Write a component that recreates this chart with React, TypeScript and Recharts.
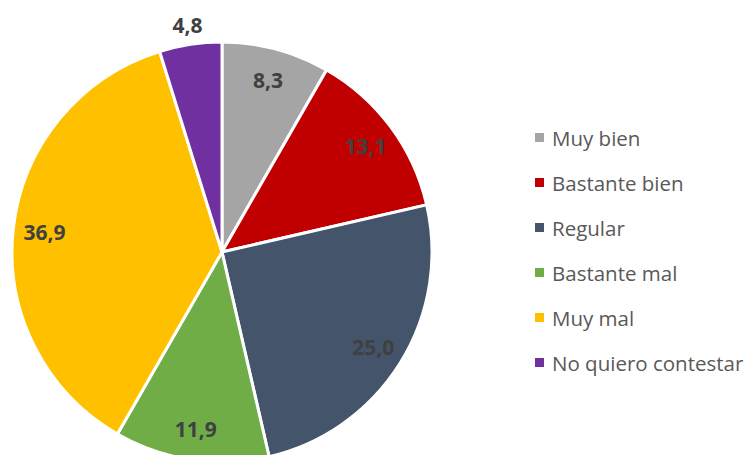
import { PieChart, Pie, Cell, Legend } from 'recharts';

const categories = [
  'Muy bien',
  'Bastante bien',
  'Regular',
  'Bastante mal',
  'Muy mal',
  'No quiero contestar',
];
const values = [8.3, 13.1, 25.0, 11.9, 36.9, 4.8];
const colors = ['#A5A5A5', '#C00000', '#44546A', '#70AD47', '#FFC000', '#7030A0'];

const data = categories.map((name, i) => ({ name, value: values[i] }));

const RAD = Math.PI / 180;
const FONT = '"Open Sans", sans-serif';

const renderLabel = (props: any) => {
  const { cx, cy, midAngle, outerRadius, percent, value } = props;
  // small slices go outside, like Excel's best fit
  const r = percent < 0.06 ? outerRadius + 20 : outerRadius * 0.85;
  const x = cx + r * Math.cos(-midAngle * RAD);
  const y = cy + r * Math.sin(-midAngle * RAD);
  return (
    <text
      x={x}
      y={y}
      fill="#404040"
      textAnchor="middle"
      dominantBaseline="central"
      fontFamily={FONT}
      fontWeight={700}
      fontSize={21}
    >
      {Number(value).toFixed(1).replace('.', ',')}
    </text>
  );
};

const renderLegend = () => (
  <div style={{ fontFamily: FONT, fontSize: 20.5, color: '#595959' }}>
    {data.map((d, i) => (
      <div key={d.name} style={{ display: 'flex', alignItems: 'center', height: 45 }}>
        <span
          style={{
            display: 'inline-block',
            width: 9,
            height: 9,
            background: colors[i],
            marginRight: 8,
          }}
        />
        <span style={{ whiteSpace: 'nowrap' }}>{d.name}</span>
      </div>
    ))}
  </div>
);

export default function App() {
  return (
    <div>
      <style>{'body{margin:0}'}</style>
      <PieChart width={749} height={455} margin={{ top: 0, right: 0, bottom: 0, left: 0 }}>
        <Pie
          data={data}
          dataKey="value"
          nameKey="name"
          cx={222}
          cy={252}
          outerRadius={210}
          startAngle={90}
          endAngle={-270}
          stroke="#FFFFFF"
          strokeWidth={3}
          label={renderLabel}
          labelLine={false}
          isAnimationActive={false}
        >
          {data.map((d, i) => (
            <Cell key={d.name} fill={colors[i]} />
          ))}
        </Pie>
        <Legend
          content={renderLegend}
          layout="vertical"
          wrapperStyle={{ left: 535, top: 115, width: 214 }}
        />
      </PieChart>
    </div>
  );
}
